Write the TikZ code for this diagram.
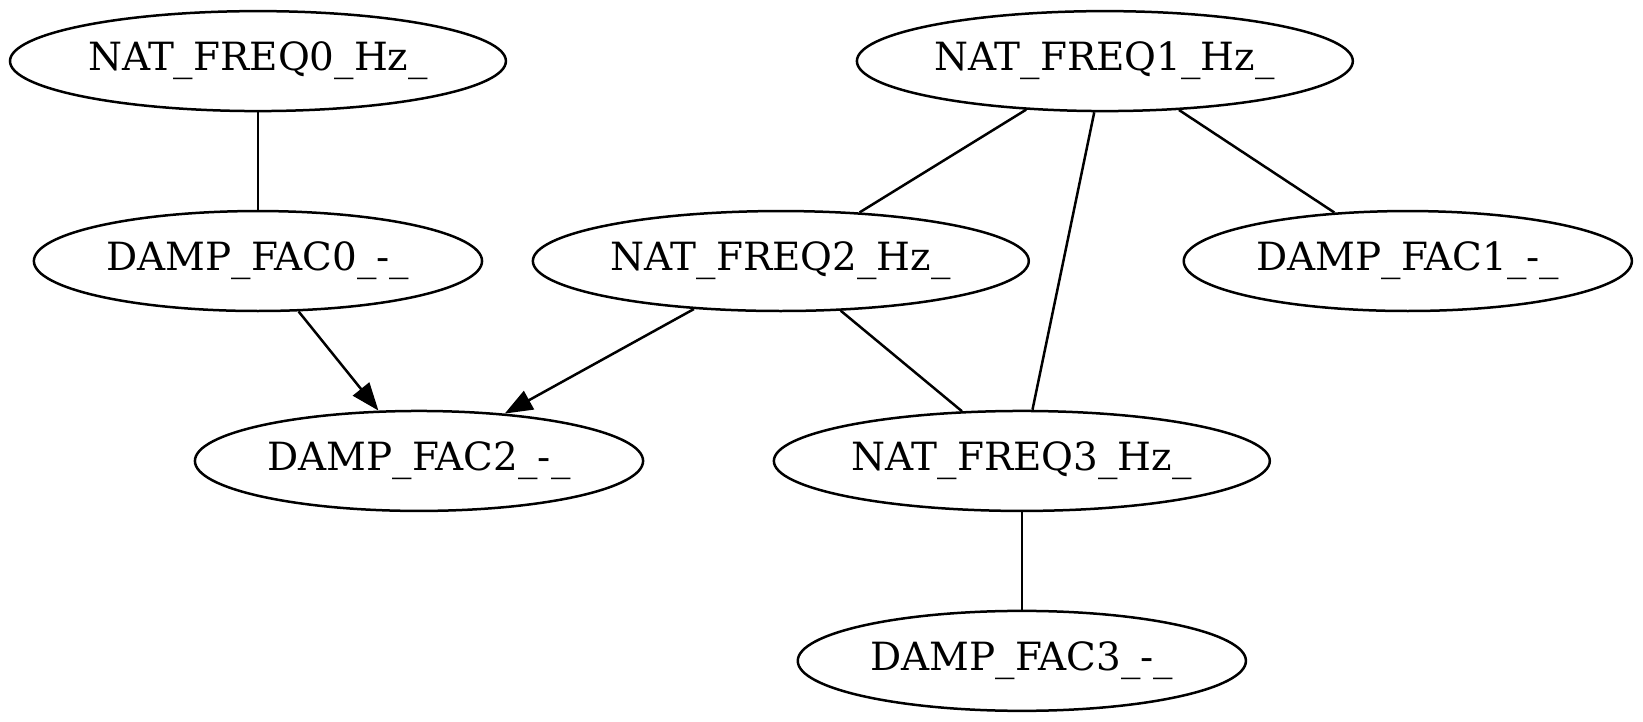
\documentclass[tikz,border=0pt]{standalone}
\usepackage{fontspec}
\setmainfont{DejaVu Serif}
\usetikzlibrary{shapes.geometric,arrows.meta}
\begin{document}
\begin{tikzpicture}[x=1pt,y=-1pt,
  every node/.style={font=\fontsize{14}{17}\selectfont},
  gvnode/.style={draw, ellipse, line width=0.9pt, inner sep=0pt, minimum height=36pt},
  widenode/.style={gvnode, minimum width=178.6pt},
  narrownode/.style={gvnode, minimum width=161.4pt},
  link/.style={line width=0.9pt},
  arrowlink/.style={link, -{Triangle[length=10pt,width=7.5pt]}}
]
\useasboundingbox (0,0) rectangle (591.7,260);

% rank 1
\node[widenode]   (nf0) at (92.9,22)  {NAT\_FREQ0\_Hz\_};
\node[widenode]   (nf1) at (397.9,22) {NAT\_FREQ1\_Hz\_};
% rank 2
\node[narrownode] (df0) at (92.9,94)  {DAMP\_FAC0\_-\_};
\node[widenode]   (nf2) at (281.2,94) {NAT\_FREQ2\_Hz\_};
\node[narrownode] (df1) at (507.0,94) {DAMP\_FAC1\_-\_};
% rank 3
\node[narrownode] (df2) at (150.9,166) {DAMP\_FAC2\_-\_};
\node[widenode]   (nf3) at (368.0,166) {NAT\_FREQ3\_Hz\_};
% rank 4
\node[narrownode] (df3) at (368.0,238) {DAMP\_FAC3\_-\_};

% connectors
\draw[link] (nf0) -- (df0);
\draw[arrowlink] (df0) -- (df2);
\draw[link] (nf1) -- (nf2);
\draw[link] (nf1) -- (nf3);
\draw[link] (nf1) -- (df1);
\draw[arrowlink] (nf2) -- (df2);
\draw[link] (nf2) -- (nf3);
\draw[link] (nf3) -- (df3);
\end{tikzpicture}
\end{document}
